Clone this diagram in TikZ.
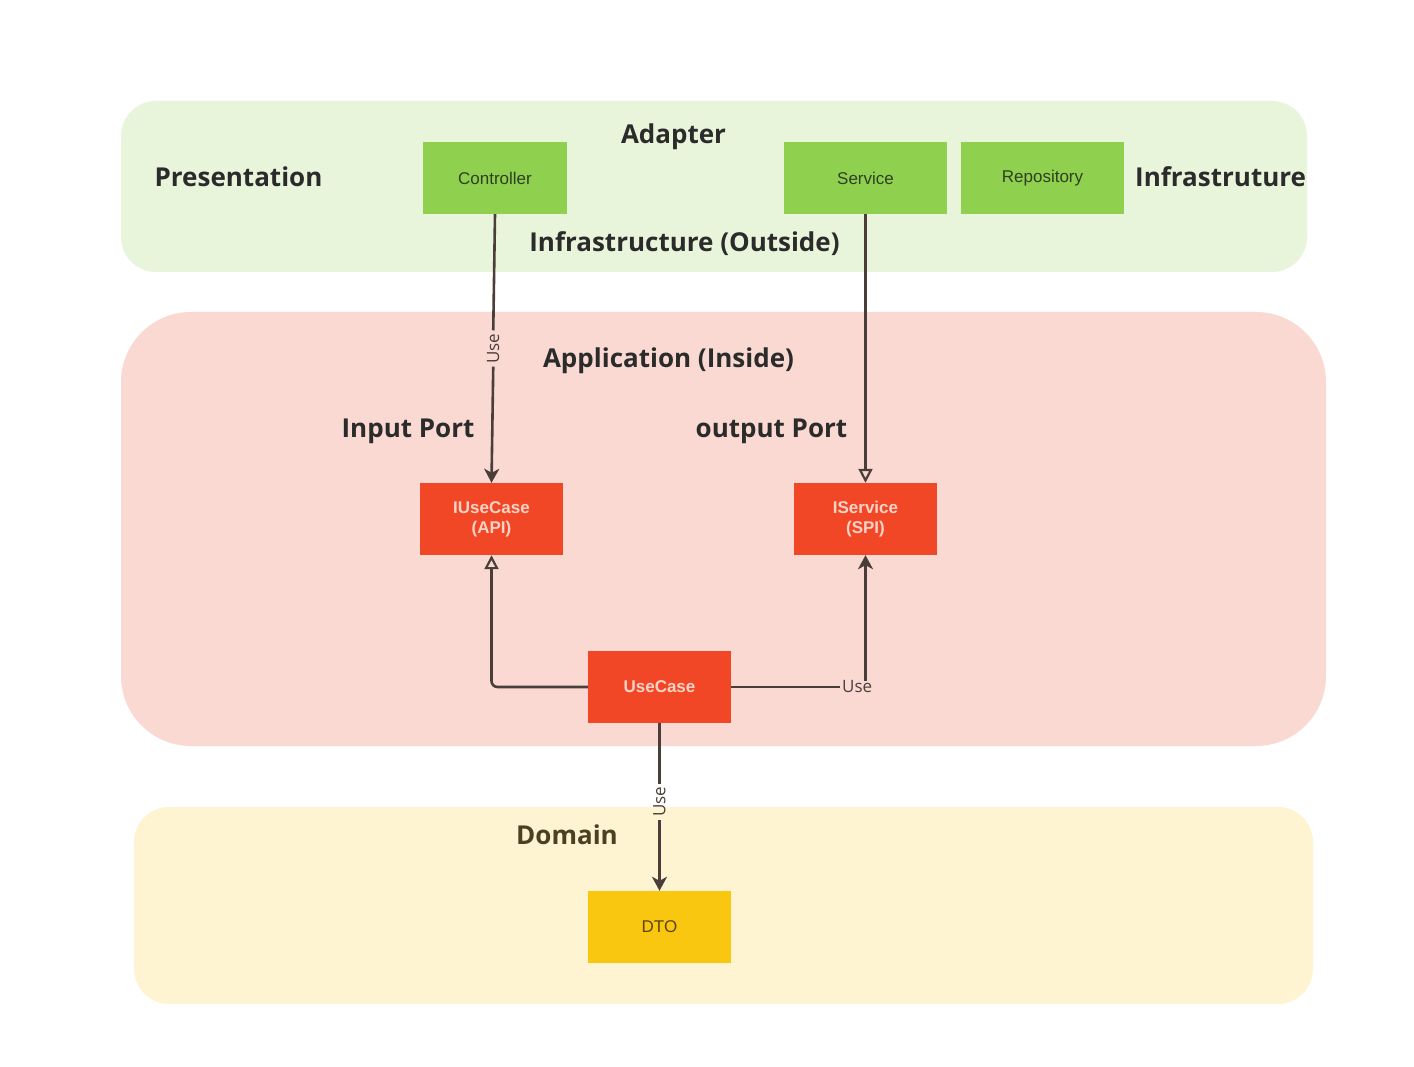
\documentclass[tikz,border=0pt]{standalone}
\usepackage{fontspec}
\setmainfont{Open Sans}
\newfontfamily\boxfont{Liberation Sans}
\usetikzlibrary{arrows.meta}
\definecolor{greenband}{HTML}{E9F5DA}
\definecolor{redband}{HTML}{FBD9D3}
\definecolor{yellowband}{HTML}{FFF4D1}
\definecolor{greenbox}{HTML}{8FD14F}
\definecolor{redbox}{HTML}{F24726}
\definecolor{yellowbox}{HTML}{FAC710}
\definecolor{linecol}{HTML}{4A3E3A}
\definecolor{titlecol}{HTML}{2B2B2B}
\definecolor{greentext}{HTML}{2E3F22}
\definecolor{redtext}{HTML}{FAD3C6}
\definecolor{dtotext}{HTML}{5A4410}
\definecolor{domaintext}{HTML}{4A4022}
\tikzset{
  title/.style={anchor=base, font=\fontsize{26}{31}\selectfont\bfseries, text=titlecol, inner sep=0pt},
  boxnode/.style={minimum height=72pt, inner sep=0pt, font=\boxfont\fontsize{17}{19}\selectfont},
  greenbx/.style={boxnode, fill=greenbox, text=greentext, minimum width=163pt},
  redbx/.style={boxnode, fill=redbox, text=redtext, minimum width=143pt, font=\boxfont\bfseries\fontsize{17}{20}\selectfont, align=center},
  yellowbx/.style={boxnode, fill=yellowbox, text=dtotext, minimum width=143pt},
  conn/.style={draw=linecol, line width=2.6pt},
  filledtip/.style={-{Stealth[length=14pt, width=15pt, inset=4pt]}},
  opentip/.style={-{Triangle[open, length=14pt, width=14pt, line width=2.2pt]}},
  uselbl/.style={font=\fontsize{17}{19}\selectfont, text=linecol, inner xsep=3pt, inner ysep=0pt}
}
\begin{document}
\begin{tikzpicture}[x=1pt,y=-1pt]
\useasboundingbox[fill=white] (0,0) rectangle (1414,1067);
% bands
\fill[greenband, rounded corners=35pt] (121,101) rectangle (1307,272);
\fill[redband, rounded corners=70pt] (121,312) rectangle (1326,746);
\fill[yellowband, rounded corners=35pt] (134,807) rectangle (1313,1004);
% titles
\node[title] (tadapter) at (673.5,144) {Adapter};
\node[title] (tpres) at (238.5,187) {Presentation};
\node[title, anchor=base west] (tinfra) at (1135,187) {Infrastruture};
\node[title] (tout) at (684.5,252) {Infrastructure (Outside)};
\node[title] (tapp) at (668.5,367) {Application (Inside)};
\node[title] (tin) at (408,437) {Input Port};
\node[title] (toutp) at (771.5,437) {output Port};
\node[title, text=domaintext] (tdom) at (567,844) {Domain};
% boxes
\node[greenbx, minimum width=144pt] (ctrl) at (495,178) {Controller};
\node[greenbx] (svc) at (865.5,178) {Service};
\node[greenbx] (repo) at (1042.5,178) {Repository};
\node[redbx] (iuc) at (491.5,519) {IUseCase\\(API)};
\node[redbx] (isv) at (865.5,519) {IService\\(SPI)};
\node[redbx] (uc) at (659.5,687) {UseCase};
\node[yellowbx] (dto) at (659.5,927) {DTO};
% connectors
\path (ctrl.south) -- node[uselbl, rotate=90] (u1) {Use} (iuc.north);
\draw[conn] (ctrl.south) -- (u1.east);
\draw[conn, filledtip] (u1.west) -- (iuc.north);
\draw[conn, opentip] (svc.south) -- (isv.north);
\draw[conn, opentip, rounded corners=6pt] (uc.west) -| (iuc.south);
\node[uselbl, anchor=west, inner xsep=2pt] (u2) at (840,687) {Use};
\draw[conn] (uc.east) -- (u2.west);
\draw[conn, filledtip] (isv.south |- u2.north) -- (isv.south);
\path (uc.south) -- node[uselbl, rotate=90, pos=0.47] (u3) {Use} (dto.north);
\draw[conn] (uc.south) -- (u3.east);
\draw[conn, filledtip] (u3.west) -- (dto.north);
\end{tikzpicture}
\end{document}
